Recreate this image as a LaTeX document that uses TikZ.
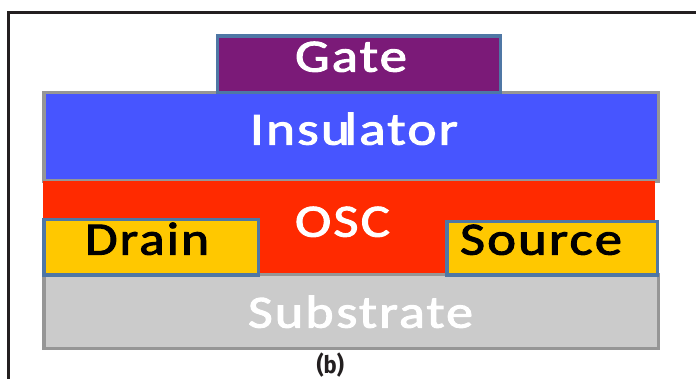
\documentclass[tikz,border=0pt]{standalone}
\usepackage{fontspec}
\setmainfont[FakeBold=2,LetterSpace=4]{Carlito}
\newfontfamily\capfont{Fira Sans}
\definecolor{gatefill}{HTML}{7B1A78}
\definecolor{insfill}{HTML}{4755FF}
\definecolor{oscfill}{HTML}{FF2A00}
\definecolor{contactfill}{HTML}{FFC800}
\definecolor{subfill}{HTML}{CBCBCB}
\definecolor{grayedge}{HTML}{969696}
\definecolor{blueedge}{HTML}{4F77A5}
\definecolor{frameedge}{HTML}{231F20}
\newcommand{\fittext}[3]{\resizebox{#1pt}{#2pt}{#3}}
\tikzset{
  layer/.style={rectangle,inner sep=0pt,outer sep=0pt,line width=3.5pt,anchor=north west},
  grayed/.style={layer,draw=grayedge},
  blued/.style={layer,draw=blueedge},
  lbl/.style={inner sep=0pt,outer sep=0pt,anchor=south west},
}
\begin{document}
\begin{tikzpicture}[x=1pt,y=-1pt]
\useasboundingbox (0,0) rectangle (696,379);
\coordinate (frameA) at (8.5,379);
\coordinate (frameB) at (8.5,12.5);
\coordinate (frameC) at (696,12.5);
\draw[frameedge,line width=2.4pt] (frameA) -- (frameB) -- (frameC);
% layers
\node[grayed,fill=insfill,minimum width=614.5pt,minimum height=88.5pt] (ins) at (43.75,92.75) {};
\node[grayed,fill=subfill,minimum width=614.5pt,minimum height=73.5pt] (sub) at (43.75,274.75) {};
\node[layer,fill=oscfill,minimum width=612.3pt,minimum height=91.5pt] (osc) at (43,181.5) {};
\node[blued,fill=gatefill,minimum width=283.2pt,minimum height=56.2pt] (gate) at (217.3,36.2) {};
\node[blued,fill=contactfill,minimum width=214.1pt,minimum height=55.5pt] (drain) at (44.2,219.5) {};
\node[blued,fill=contactfill,minimum width=210.5pt,minimum height=53.3pt] (source) at (447.2,221.7) {};
% labels
\node[lbl,text=white] (tgate) at (295,72) {\fittext{112}{30}{Gate}};
\node[lbl,text=white] (tins) at (250,145) {\fittext{208}{32}{In\kern0.4pt su\kern-1pt lator}};
\node[lbl,text=white] (tosc) at (295,237) {\fittext{95}{30}{OSC}};
\node[lbl,text=black] (tdrain) at (85,255) {\fittext{124}{32}{Drain}};
\node[lbl,text=black] (tsource) at (460,255) {\fittext{162}{30}{Source}};
\node[lbl,text=white] (tsub) at (248,328) {\fittext{225}{32}{Sub\kern0.5pt strate}};
\node[lbl,text=frameedge] (cap) at (316.5,377.5) {\resizebox*{27.5pt}{24.5pt}{\capfont\bfseries (b)}};
\end{tikzpicture}
\end{document}
